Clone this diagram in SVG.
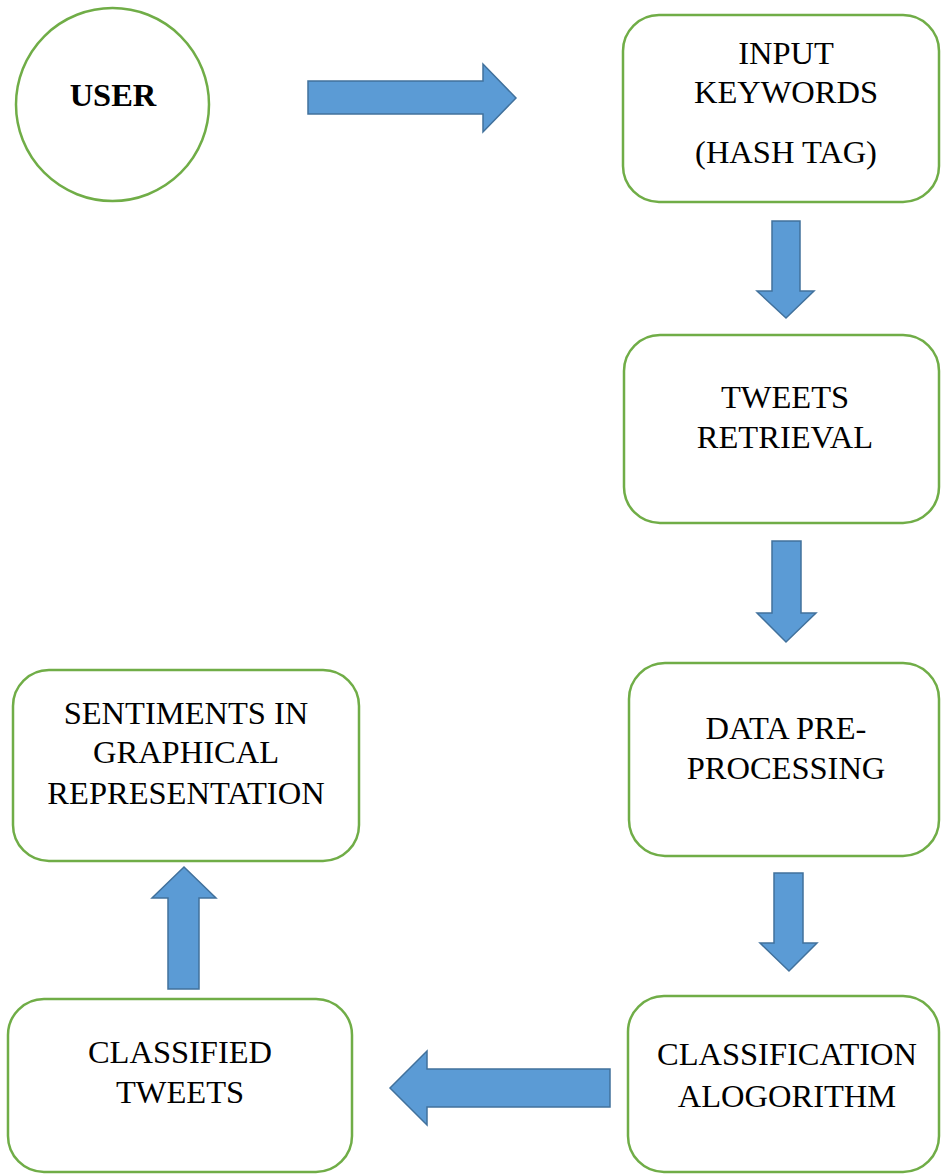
<svg xmlns="http://www.w3.org/2000/svg" width="941" height="1175" viewBox="0 0 941 1175">
<style>
.node{fill:#fff;stroke:#70AD47;stroke-width:2.5}
.arrow{fill:#5B9BD5;stroke:#41719C;stroke-width:1.5;stroke-linejoin:miter}
text{font-family:"Liberation Serif","Times New Roman",serif;font-size:32.5px;fill:#000;text-anchor:middle}
.b{font-weight:bold}
</style>
<rect width="941" height="1175" fill="#fff"/>
<g id="user">
<ellipse class="node" cx="112.5" cy="104.5" rx="96.5" ry="96.5"/>
<text class="b" x="113" y="106">USER</text>
</g>
<g id="input-keywords">
<rect class="node" x="623" y="15" width="316" height="187" rx="36"/>
<text x="786" y="64">INPUT</text>
<text x="786" y="103">KEYWORDS</text>
<text x="786" y="163">(HASH TAG)</text>
</g>
<g id="tweets-retrieval">
<rect class="node" x="624" y="335" width="315" height="188" rx="36"/>
<text x="785" y="408">TWEETS</text>
<text x="785" y="448">RETRIEVAL</text>
</g>
<g id="data-preprocessing">
<rect class="node" x="629" y="663" width="310" height="193" rx="36"/>
<text x="786" y="739">DATA PRE-</text>
<text x="786" y="779">PROCESSING</text>
</g>
<g id="classification-algorithm">
<rect class="node" x="628" y="996" width="311" height="176" rx="36"/>
<text x="787" y="1065">CLASSIFICATION</text>
<text x="787" y="1107">ALOGORITHM</text>
</g>
<g id="classified-tweets">
<rect class="node" x="8" y="999" width="344" height="173" rx="36"/>
<text x="180" y="1063">CLASSIFIED</text>
<text x="180" y="1103">TWEETS</text>
</g>
<g id="sentiments">
<rect class="node" x="13" y="670" width="346" height="191" rx="36"/>
<text x="186" y="724">SENTIMENTS IN</text>
<text x="186" y="763">GRAPHICAL</text>
<text x="186" y="804">REPRESENTATION</text>
</g>
<g id="connectors">
<polygon class="arrow" points="308,81 483,81 483,64 516,98 483,132 483,114 308,114"/>
<polygon class="arrow" points="772,221 800,221 800,291 814,291 786,318 757,291 772,291"/>
<polygon class="arrow" points="772,541 801,541 801,613 816,613 786,642 757,613 772,613"/>
<polygon class="arrow" points="774,873 803,873 803,943 817,943 789,971 760,943 774,943"/>
<polygon class="arrow" points="610,1069 427,1069 427,1051 390,1088 427,1125 427,1107 610,1107"/>
<polygon class="arrow" points="168,989 168,898 152,898 184,867 216,898 199,898 199,989"/>
</g>
</svg>
